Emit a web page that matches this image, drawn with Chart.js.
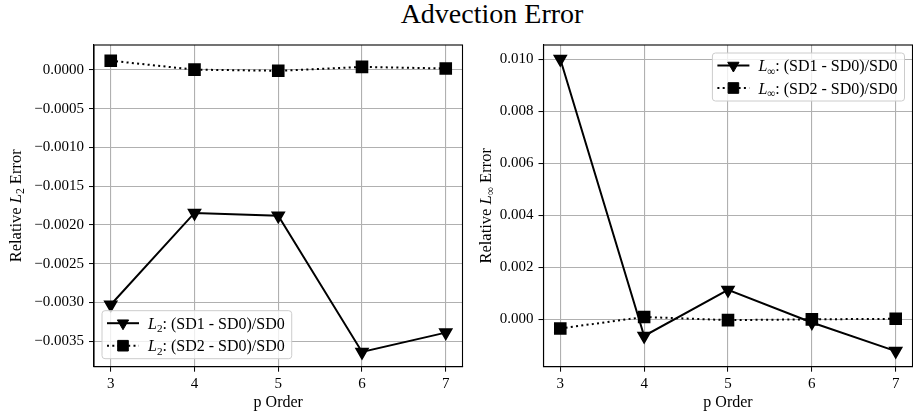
<!DOCTYPE html>
<html>
<head>
<meta charset="utf-8">
<script src="https://cdn.jsdelivr.net/npm/chart.js@4.4.1/dist/chart.umd.min.js"></script>
<style>
  html, body { margin: 0; padding: 0; background: #fff; overflow: hidden; width: 913px; height: 413px; }
  #title { position: absolute; left: 0; top: 0; width: 984px; text-align: center; font: 28px 'Liberation Serif', serif; line-height: 28px; color: #000; }
  .panel { position: absolute; top: 0; height: 413px; }
  #left { left: 0; width: 472px; }
  #right { left: 472px; width: 450px; }
</style>
</head>
<body>
<div id="title">Advection Error</div>
<div class="panel" id="left"><canvas id="l2Chart" width="472" height="413"></canvas></div>
<div class="panel" id="right"><canvas id="linfChart" width="450" height="413"></canvas></div>
<script>
const pOrders = [3, 4, 5, 6, 7]

const l2Sd1 = [-0.00303, -0.001845, -0.00188, -0.00364, -0.00339]
const l2Sd2 = [0.00012, 0.000005, -0.00001, 0.00004, 0.00002]
const l2Ticks = [-0.0035, -0.003, -0.0025, -0.002, -0.0015, -0.001, -0.0005, 0]

const linfSd1 = [0.0100, -0.00064, 0.00113, -0.00012, -0.00122]
const linfSd2 = [-0.00035, 0.00009, -0.00003, 0.0, 0.00002]
const linfTicks = [0, 0.002, 0.004, 0.006, 0.008, 0.01]

const FONT = "'Liberation Serif', serif"
const GRID = '#b0b0b0'

function toPoints(ys) {
  return pOrders.map((p, i) => ({ x: p, y: ys[i] }))
}

// text pieces: {t, it: italic, sub: subscript}
function richWidth(ctx, parts, size) {
  let w = 0
  parts.forEach((p) => {
    ctx.font = (p.it ? 'italic ' : '') + (p.sub ? size * 0.7 : size) + 'px ' + FONT
    w += ctx.measureText(p.t).width
  })
  return w
}

function drawRich(ctx, parts, x, y, size) {
  ctx.textBaseline = 'alphabetic'
  ctx.textAlign = 'left'
  parts.forEach((p) => {
    ctx.font = (p.it ? 'italic ' : '') + (p.sub ? size * 0.7 : size) + 'px ' + FONT
    ctx.fillText(p.t, x, p.sub ? y + size * 0.22 : y)
    x += ctx.measureText(p.t).width
  })
}

const mplExtras = {
  id: 'mplExtras',
  afterDraw(chart, args, opts) {
    const ctx = chart.ctx
    const a = chart.chartArea
    ctx.save()
    // full frame
    ctx.strokeStyle = '#000'
    ctx.lineWidth = 1.1
    ctx.strokeRect(a.left, a.top, a.right - a.left, a.bottom - a.top)

    // y axis title
    ctx.fillStyle = '#000'
    const tsize = 16.5
    const tw = richWidth(ctx, opts.yTitle, tsize)
    ctx.save()
    ctx.translate(opts.yTitleX, (a.top + a.bottom) / 2)
    ctx.rotate(-Math.PI / 2)
    drawRich(ctx, opts.yTitle, -tw / 2, 5.5, tsize)
    ctx.restore()

    // legend
    const lg = opts.legend
    const size = 16
    let textW = 0
    lg.entries.forEach((e) => { textW = Math.max(textW, richWidth(ctx, e.parts, size)) })
    const w = 46 + textW + 7
    const h = 48
    const x0 = lg.corner === 'll' ? a.left + 8 : a.right - 8 - w
    const y0 = lg.corner === 'll' ? a.bottom - 8 - h : a.top + 8
    ctx.beginPath()
    ctx.roundRect(x0, y0, w, h, 3)
    ctx.fillStyle = 'rgba(255,255,255,0.8)'
    ctx.fill()
    ctx.strokeStyle = '#cccccc'
    ctx.lineWidth = 1
    ctx.stroke()
    lg.entries.forEach((e, i) => {
      const ds = chart.data.datasets[e.datasetIndex]
      const ry = y0 + 12.5 + i * 22.5
      ctx.beginPath()
      ctx.strokeStyle = ds.borderColor
      ctx.lineWidth = ds.borderWidth
      ctx.setLineDash(ds.borderDash || [])
      ctx.moveTo(x0 + 5, ry)
      ctx.lineTo(x0 + 37, ry)
      ctx.stroke()
      ctx.setLineDash([])
      ctx.fillStyle = ds.pointBackgroundColor
      ctx.strokeStyle = ds.pointBorderColor
      ctx.lineWidth = 1
      Chart.helpers.drawPoint(ctx, {
        pointStyle: ds.pointStyle,
        rotation: ds.pointRotation || 0,
        radius: ds.pointRadius,
        borderWidth: 1,
      }, x0 + 21, ry)
      ctx.fillStyle = '#000'
      drawRich(ctx, e.parts, x0 + 46, ry + 5.5, size)
    })
    ctx.restore()
  },
}

function makeChart(id, opts) {
  const datasets = [
    {
      data: toPoints(opts.sd1),
      borderColor: '#000',
      borderWidth: 2,
      pointStyle: 'triangle',
      pointRotation: 180,
      pointRadius: 6.5,
      pointBackgroundColor: '#000',
      pointBorderColor: '#000',
    },
    {
      data: toPoints(opts.sd2),
      borderColor: '#000',
      borderWidth: 2,
      borderDash: [2, 3.3],
      borderCapStyle: 'butt',
      pointStyle: 'rect',
      pointRadius: 7.5,
      pointBackgroundColor: '#000',
      pointBorderColor: '#000',
    },
  ]
  return new Chart(document.getElementById(id), {
    type: 'line',
    data: { datasets },
    plugins: [mplExtras],
    options: {
      responsive: false,
      animation: false,
      layout: { padding: { top: 45, right: opts.padRight, left: 0, bottom: 0 } },
      plugins: {
        legend: { display: false },
        tooltip: { enabled: false },
        mplExtras: {
          yTitle: opts.yTitle,
          yTitleX: opts.yTitleX,
          legend: { corner: opts.legendCorner, entries: opts.legendEntries },
        },
      },
      scales: {
        x: {
          type: 'linear',
          min: 2.8,
          max: 7.2,
          afterBuildTicks: (s) => { s.ticks = pOrders.map((v) => ({ value: v })) },
          afterFit: (s) => { s.height = 46.3 },
          grid: { color: GRID, lineWidth: 1.1, tickLength: 5, tickColor: '#000', tickWidth: 1 },
          border: { color: '#000', width: 1.1 },
          ticks: { color: '#000', font: { family: FONT, size: 15 }, padding: 3, maxRotation: 0 },
          title: { display: true, text: 'p Order', color: '#000', font: { family: FONT, size: 16 }, padding: { top: 0, bottom: 1 } },
        },
        y: {
          min: opts.yMin,
          max: opts.yMax,
          afterBuildTicks: (s) => { s.ticks = opts.yTicks.map((v) => ({ value: v })) },
          afterFit: (s) => { s.width = opts.yWidth },
          grid: { color: GRID, lineWidth: 1.1, tickLength: 5, tickColor: '#000', tickWidth: 1 },
          border: { color: '#000', width: 1.1 },
          ticks: {
            color: '#000',
            font: { family: FONT, size: 15 },
            padding: 5,
            callback: (v) => v.toFixed(opts.digits).replace('-', '\u2212'),
          },
        },
      },
    },
  })
}

const l2Label = (sd) => [{ t: 'L', it: true }, { t: '2', sub: true }, { t: ': (' + sd + ' - SD0)/SD0' }]
const linfLabel = (sd) => [{ t: 'L', it: true }, { t: '\u221E', sub: true }, { t: ': (' + sd + ' - SD0)/SD0' }]

makeChart('l2Chart', {
  sd1: l2Sd1,
  sd2: l2Sd2,
  yMin: -0.00383,
  yMax: 0.000323,
  yTicks: l2Ticks,
  digits: 4,
  yWidth: 94,
  padRight: 4,
  yTitleX: 15,
  yTitle: [{ t: 'Relative ' }, { t: 'L', it: true }, { t: '2', sub: true }, { t: ' Error' }],
  legendCorner: 'll',
  legendEntries: [
    { datasetIndex: 0, parts: l2Label('SD1') },
    { datasetIndex: 1, parts: l2Label('SD2') },
  ],
})

makeChart('linfChart', {
  sd1: linfSd1,
  sd2: linfSd2,
  yMin: -0.00182,
  yMax: 0.01054,
  yTicks: linfTicks,
  digits: 3,
  yWidth: 71.5,
  padRight: 4,
  yTitleX: 13,
  yTitle: [{ t: 'Relative ' }, { t: 'L', it: true }, { t: '\u221E', sub: true }, { t: ' Error' }],
  legendCorner: 'ur',
  legendEntries: [
    { datasetIndex: 0, parts: linfLabel('SD1') },
    { datasetIndex: 1, parts: linfLabel('SD2') },
  ],
})
</script>
</body>
</html>
